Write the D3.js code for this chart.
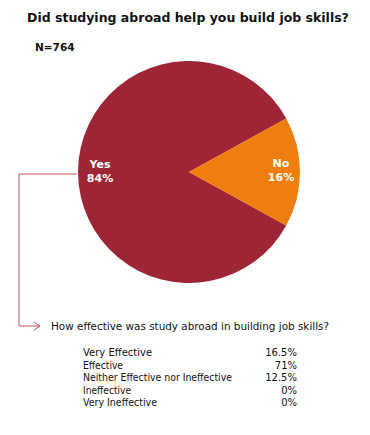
<!DOCTYPE html>
<html>
<head>
<meta charset="utf-8">
<script src="https://cdn.jsdelivr.net/npm/d3@7"></script>
<style>
  body { margin: 0; background: #fff; }
  text { font-family: "DejaVu Sans", Verdana, sans-serif; }
</style>
</head>
<body>
<div id="chart"></div>
<script>
// pie data
var answers = ["Yes", "No"];
var shares = [84, 16];
var sliceColors = ["#9e2536", "#ee7f0e"];

// follow-up table
var effectLabels = ["Very Effective", "Effective", "Neither Effective nor Ineffective", "Ineffective", "Very Ineffective"];
var effectValues = ["16.5%", "71%", "12.5%", "0%", "0%"];

var title = "Did studying abroad help you build job skills?";
var sampleNote = "N=764";
var followUp = "How effective was study abroad in building job skills?";

const width = 370, height = 435;
var svg = d3.select("#chart")
  .append("svg")
  .attr("width", width)
  .attr("height", height);

// squeeze a text to a given width (the original font is narrower than DejaVu)
function fitText(sel, w) {
  var len = sel.node().getComputedTextLength();
  if (len > w) sel.attr("textLength", w).attr("lengthAdjust", "spacingAndGlyphs");
  return sel;
}
// shrink font size until the text is w wide
function fitSize(sel, w) {
  var fs = +sel.attr("font-size");
  var len = sel.node().getComputedTextLength();
  if (len > w) sel.attr("font-size", (fs * w / len).toFixed(2));
  return sel;
}

// Title and N
fitSize(svg.append("text")
  .attr("x", 27)
  .attr("y", 22)
  .attr("font-size", 13.5)
  .attr("font-weight", "bold")
  .attr("fill", "#111")
  .text(title), 322);

svg.append("text")
  .attr("x", 35)
  .attr("y", 51)
  .attr("font-size", 10.5)
  .attr("font-weight", "bold")
  .attr("fill", "#111")
  .text(sampleNote);

// Pie
const cx = 189, cy = 172, radius = 111;
var noSweep = shares[1] / d3.sum(shares) * 2 * Math.PI;
var pie = d3.pie()
  .sort(null)
  .startAngle(Math.PI / 2 + noSweep / 2)
  .endAngle(Math.PI / 2 + noSweep / 2 + 2 * Math.PI);
var arc = d3.arc().innerRadius(0).outerRadius(radius);
var color = d3.scaleOrdinal().domain(answers).range(sliceColors);

var slices = pie(shares);

var g = svg.append("g").attr("transform", "translate(" + cx + "," + cy + ")");
g.selectAll("path")
  .data(slices)
  .join("path")
  .attr("d", arc)
  .attr("fill", function(d, i) { return color(answers[i]); });

// Slice labels
var labelPos = [[-89, 0], [92, -1]];
slices.forEach(function(d, i) {
  var t = g.append("text")
    .attr("text-anchor", "middle")
    .attr("font-size", 11)
    .attr("font-weight", "bold")
    .attr("fill", "#fff")
    .attr("x", labelPos[i][0])
    .attr("y", labelPos[i][1]);
  t.append("tspan").attr("x", labelPos[i][0]).attr("dy", "-0.35em").text(answers[i]);
  t.append("tspan").attr("x", labelPos[i][0]).attr("dy", "1.25em").text(shares[i] + "%");
});

// Connector from "Yes" to the follow-up question
var lineColor = "#c0505e";
svg.append("path")
  .attr("d", "M77,174 H19 V326 H40")
  .attr("fill", "none")
  .attr("stroke", lineColor)
  .attr("stroke-width", 1);
svg.append("path")
  .attr("d", "M34,322 L40,326 L34,330")
  .attr("fill", "none")
  .attr("stroke", lineColor)
  .attr("stroke-width", 1);

fitText(svg.append("text")
  .attr("x", 51)
  .attr("y", 330)
  .attr("font-size", 10.5)
  .attr("fill", "#111")
  .text(followUp), 278);

// Table of answers
var rowY = d3.scalePoint()
  .domain(effectLabels)
  .range([356, 406]);

var rows = svg.append("g").selectAll("g")
  .data(effectLabels)
  .join("g")
  .attr("transform", function(d) { return "translate(0," + rowY(d) + ")"; });

var labelWidths = [70, 40, 149, 48, 74];
rows.append("text")
  .attr("x", 83)
  .attr("font-size", 10)
  .attr("fill", "#111")
  .text(function(d) { return d; })
  .each(function(d, i) { fitText(d3.select(this), labelWidths[i]); });

rows.append("text")
  .attr("x", 297)
  .attr("text-anchor", "end")
  .attr("font-size", 10)
  .attr("fill", "#111")
  .text(function(d, i) { return effectValues[i]; });
</script>
</body>
</html>
